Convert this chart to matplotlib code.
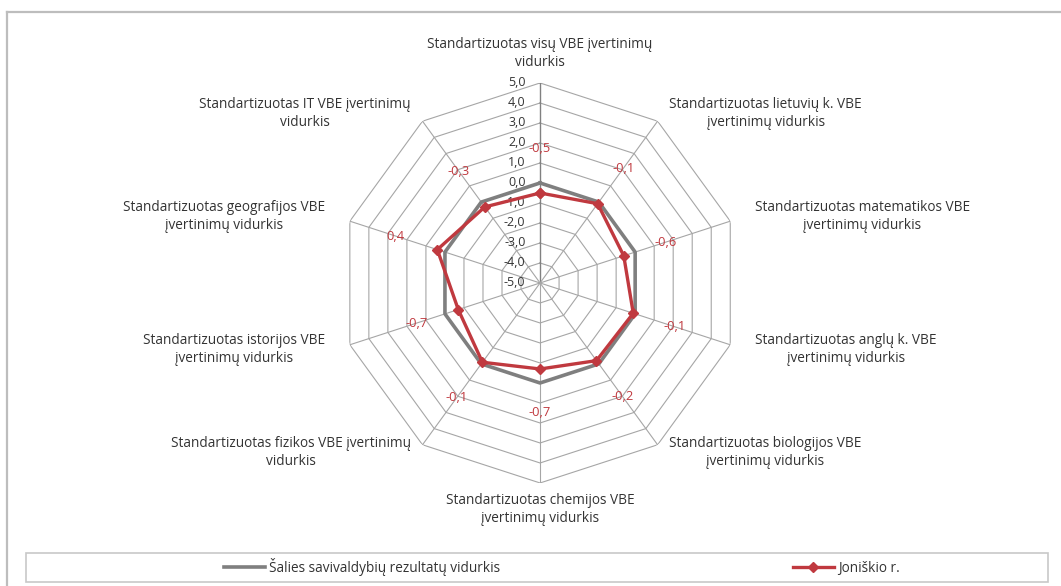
import numpy as np
import matplotlib
matplotlib.use("Agg")
import matplotlib.pyplot as plt
import matplotlib.transforms as mtransforms
from matplotlib.patches import Rectangle
from matplotlib.lines import Line2D

plt.rcParams['font.family'] = ['Open Sans', 'DejaVu Sans']

# Data
categories = [
    "Standartizuotas visų VBE įvertinimų\nvidurkis",
    "Standartizuotas lietuvių k. VBE\nįvertinimų vidurkis",
    "Standartizuotas matematikos VBE\nįvertinimų vidurkis",
    "Standartizuotas anglų k. VBE\nįvertinimų vidurkis",
    "Standartizuotas biologijos VBE\nįvertinimų vidurkis",
    "Standartizuotas chemijos VBE\nįvertinimų vidurkis",
    "Standartizuotas fizikos VBE įvertinimų\nvidurkis",
    "Standartizuotas istorijos VBE\nįvertinimų vidurkis",
    "Standartizuotas geografijos VBE\nįvertinimų vidurkis",
    "Standartizuotas IT VBE įvertinimų\nvidurkis",
]
national_avg = [0.0, 0.0, 0.0, 0.0, 0.0, 0.0, 0.0, 0.0, 0.0, 0.0]
joniskis = [-0.5, -0.1, -0.6, -0.1, -0.2, -0.7, -0.1, -0.7, 0.4, -0.3]
series_names = ["Šalies savivaldybių rezultatų vidurkis", "Joniškio r."]
r_ticks = [-5, -4, -3, -2, -1, 0, 1, 2, 3, 4, 5]

grey = "#7f7f7f"
red = "#c0393f"
grid_c = "#a6a6a6"
text_c = "#333333"
fs = 9.8

fig = plt.figure(figsize=(10.61, 5.86), dpi=100)

ax = fig.add_axes([0.3205, 0.1758, 0.377, 0.6826], projection='polar')
ax.set_theta_zero_location('N')
ax.set_theta_direction(-1)
ax.set_ylim(-5, 5)
ax.grid(False)
ax.spines['polar'].set_visible(False)
ax.set_xticks([])
ax.set_yticks([])
ax.patch.set_alpha(0)

n = len(categories)
angles = np.linspace(0, 2 * np.pi, n, endpoint=False)
closed = np.append(angles, angles[0])

# polygon grid
for lvl in r_ticks:
    ax.plot(closed, [lvl] * (n + 1), color=grid_c, lw=0.8, zorder=1)
for i, a in enumerate(angles):
    ax.plot([a, a], [-5, 5], color="#808080" if i == 0 else grid_c,
            lw=1.0 if i == 0 else 0.8, zorder=1)

# tick labels along the top spoke
tick_tr = mtransforms.offset_copy(ax.transData, fig=fig, x=-10.5, y=0, units='points')
for v in r_ticks:
    ax.text(0, v, f"{v:.1f}".replace('.', ','), transform=tick_tr,
            ha='right', va='center', fontsize=9, color=text_c, zorder=3)

# series
ax.plot(closed, national_avg + national_avg[:1], color=grey, lw=2.6, zorder=4,
        label=series_names[0])
ax.plot(closed, joniskis + joniskis[:1], color=red, lw=2.4, marker='D',
        markersize=5, zorder=5, label=series_names[1])

# data labels
for a, v in zip(angles, joniskis):
    ax.text(a, v + 2.2, f"{v:.1f}".replace('.', ','), color=red, fontsize=9.3,
            ha='center', va='center', zorder=6)

# category labels
for a, lab in zip(angles, categories):
    s = np.sin(a)
    c = np.cos(a)
    if abs(s) < 0.1:
        if c > 0:
            ax.text(a, 5.65, lab, ha='center', va='bottom', fontsize=fs,
                    color=text_c, multialignment='center', linespacing=1.3)
        else:
            ax.text(a, 5.5, lab, ha='center', va='top', fontsize=fs,
                    color=text_c, multialignment='center', linespacing=1.3)
    else:
        r = 6.3 if abs(c) < 0.5 else 6.0
        tr = mtransforms.offset_copy(ax.transData, fig=fig, x=0,
                                     y=-c * 7.5, units='points')
        ax.text(a, r, lab, transform=tr, ha='left' if s > 0 else 'right',
                va='center', fontsize=fs, color=text_c,
                multialignment='center', linespacing=1.3)

# outer frame of the chart area
fig.add_artist(Line2D([7 / 1061, 7 / 1061], [0, 1 - 12 / 586],
                      transform=fig.transFigure, color="#bdbdbd", lw=1.6))
fig.add_artist(Line2D([7 / 1061, 1], [1 - 12 / 586, 1 - 12 / 586],
                      transform=fig.transFigure, color="#bdbdbd", lw=1.6))

# legend box
fig.add_artist(Rectangle((26 / 1061, 1 - 582 / 586), 1022 / 1061, 29 / 586,
                         transform=fig.transFigure, facecolor='none',
                         edgecolor="#c8c8c8", lw=1.2))
handles, labels = ax.get_legend_handles_labels()
fig.legend(handles, labels, loc='center', bbox_to_anchor=(562 / 1061, 1 - 567 / 586),
           ncol=2, frameon=False, fontsize=fs, handlelength=3,
           columnspacing=21.5, labelcolor=text_c, handletextpad=0.3)

fig.savefig("out.png", dpi=100)
